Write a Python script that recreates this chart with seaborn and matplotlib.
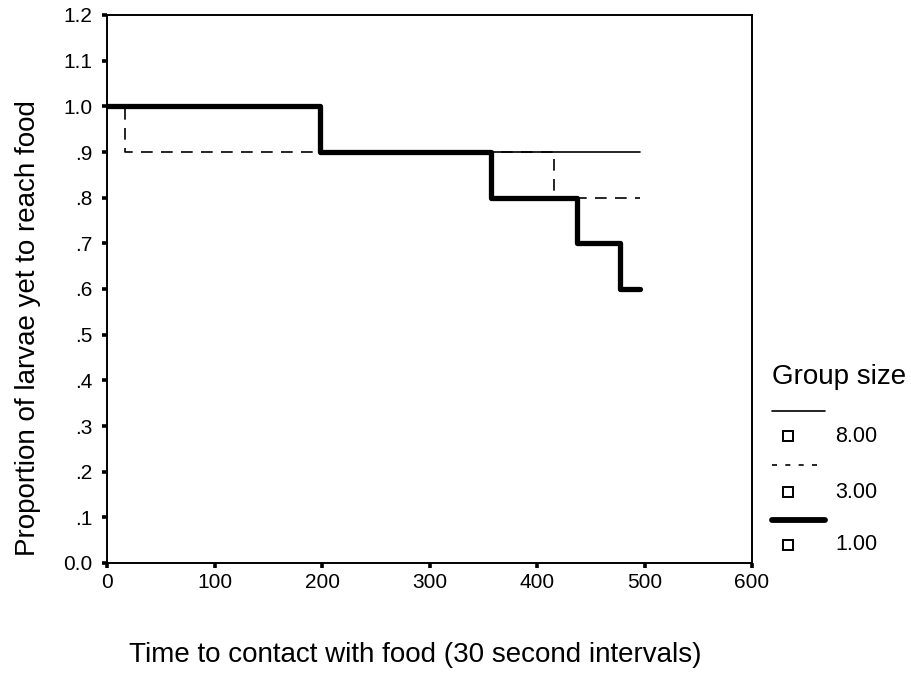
import numpy as np
import pandas as pd
import seaborn as sns
import matplotlib
matplotlib.use("Agg")
import matplotlib.pyplot as plt
from matplotlib.lines import Line2D

# Survival-style step data: proportion of larvae that have not yet reached food
time_g1 = [0, 198, 357, 437, 477, 496]
prop_g1 = [1.0, 0.9, 0.8, 0.7, 0.6, 0.6]

time_g3 = [0, 17, 416, 496]
prop_g3 = [1.0, 0.9, 0.8, 0.8]

time_g8 = [0, 198, 496]
prop_g8 = [1.0, 0.9, 0.9]

group_labels = ["8.00", "3.00", "1.00"]
x_ticks = [0, 100, 200, 300, 400, 500, 600]
y_ticks = [0.0, 0.1, 0.2, 0.3, 0.4, 0.5, 0.6, 0.7, 0.8, 0.9, 1.0, 1.1, 1.2]
y_tick_labels = ["0.0", ".1", ".2", ".3", ".4", ".5", ".6", ".7", ".8", ".9",
                 "1.0", "1.1", "1.2"]

sns.set_theme(style="white")
plt.rcParams["font.family"] = ["Liberation Sans", "DejaVu Sans"]

df = pd.concat([
    pd.DataFrame({"time": time_g1, "prop": prop_g1, "group": "1.00"}),
    pd.DataFrame({"time": time_g3, "prop": prop_g3, "group": "3.00"}),
    pd.DataFrame({"time": time_g8, "prop": prop_g8, "group": "8.00"}),
], ignore_index=True)

fig = plt.figure(figsize=(9.12, 6.74), dpi=100)
ax = fig.add_axes([107 / 912, 1 - 563 / 674, (752 - 107) / 912, (563 - 15) / 674])

styles = {
    "1.00": dict(lw=3.8, ls="-"),
    "3.00": dict(lw=1.2, ls=(0, (7, 5))),
    "8.00": dict(lw=1.2, ls="-"),
}
for g in ["1.00", "3.00", "8.00"]:
    sub = df[df["group"] == g]
    sns.lineplot(data=sub, x="time", y="prop", ax=ax, color="black",
                 drawstyle="steps-post", estimator=None, legend=False,
                 linewidth=styles[g]["lw"], linestyle=styles[g]["ls"])

ax.set_xlim(0, 600)
ax.set_ylim(0, 1.2)
ax.set_xticks(x_ticks)
ax.set_xticklabels([str(t) for t in x_ticks])
ax.set_yticks(y_ticks)
ax.set_yticklabels(y_tick_labels)
ax.tick_params(axis="both", direction="out", length=3.5, width=2.6,
               color="black", labelsize=15, labelcolor="black",
               bottom=True, left=True)
ax.tick_params(axis="y", pad=7)
ax.tick_params(axis="x", pad=4)
for sp in ax.spines.values():
    sp.set_color("black")
    sp.set_linewidth(1.4)
ax.set_xlabel("")
ax.set_ylabel("")

fig.text(28 / 912, 1 - 328 / 674, "Proportion of larvae yet to reach food",
         rotation=90, ha="center", va="center", fontsize=20, color="black")
fig.text(415 / 912, 1 - 655 / 674,
         "Time to contact with food (30 second intervals)",
         ha="center", va="center", fontsize=20, color="black")

# Legend panel to the right of the axes
def fy(py):
    return 1 - py / 674

def fx(px):
    return px / 912

fig.text(fx(772), fy(377), "Group size", ha="left", va="center",
         fontsize=20, color="black")
legend_rows = [
    ("8.00", 411, 436, dict(lw=1.2, ls="-")),
    ("3.00", 465, 492, dict(lw=1.2, ls=(0, (3, 5)))),
    ("1.00", 520, 545, dict(lw=4.2, ls="-")),
]
for label, ly, sy, st in legend_rows:
    fig.add_artist(Line2D([fx(772), fx(825)], [fy(ly), fy(ly)], color="black",
                          linewidth=st["lw"], linestyle=st["ls"],
                          transform=fig.transFigure))
    fig.add_artist(Line2D([fx(788)], [fy(sy)], marker="s", markersize=6.5,
                          markerfacecolor="white", markeredgecolor="black",
                          markeredgewidth=1.4, linestyle="none",
                          transform=fig.transFigure))
    fig.text(fx(835), fy(sy), label, ha="left", va="center",
             fontsize=15.5, color="black")

fig.savefig("out.png", dpi=100, facecolor="white")
